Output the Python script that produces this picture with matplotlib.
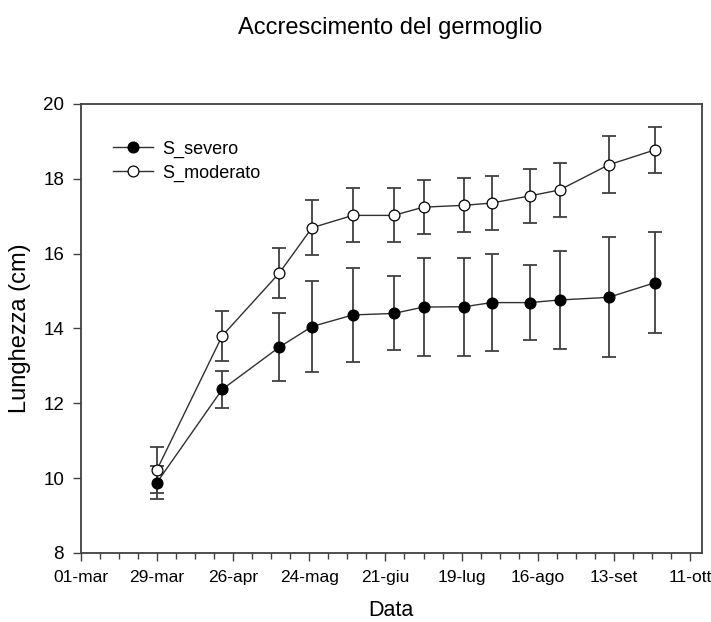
import matplotlib
matplotlib.use("Agg")
import matplotlib.pyplot as plt
import pandas as pd

plt.rcParams["font.family"] = ["Liberation Sans", "DejaVu Sans"]

# ── Data ──────────────────────────────────────────────────────
DATES = ["2013-03-29", "2013-04-22", "2013-05-13", "2013-05-25",
         "2013-06-09", "2013-06-24", "2013-07-05", "2013-07-20",
         "2013-07-30", "2013-08-13", "2013-08-24", "2013-09-11",
         "2013-09-28"]

SEVERO     = [9.88, 12.37, 13.50, 14.05, 14.36, 14.40, 14.57, 14.58,
              14.69, 14.69, 14.76, 14.83, 15.22]
SEVERO_ERR = [0.45, 0.50, 0.91, 1.22, 1.26, 0.99, 1.30, 1.31,
              1.30, 1.00, 1.30, 1.60, 1.35]

MODERATO     = [10.22, 13.80, 15.48, 16.69, 17.02, 17.02, 17.24, 17.29,
                17.35, 17.54, 17.70, 18.37, 18.77]
MODERATO_ERR = [0.62, 0.66, 0.68, 0.73, 0.72, 0.72, 0.72, 0.72,
                0.73, 0.73, 0.73, 0.76, 0.62]

TICK_DATES  = ["2013-03-01", "2013-03-29", "2013-04-26", "2013-05-24",
               "2013-06-21", "2013-07-19", "2013-08-16", "2013-09-13",
               "2013-10-11"]
TICK_LABELS = ["01-mar", "29-mar", "26-apr", "24-mag", "21-giu",
               "19-lug", "16-ago", "13-set", "11-ott"]

dates = pd.to_datetime(DATES)
ticks = pd.to_datetime(TICK_DATES)

fig = plt.figure(figsize=(7.11, 6.22), dpi=100)
ax = fig.add_axes([0.1135, 0.111, 0.8735, 0.722])

LINE = "#303030"

for y, err, face, label in [(SEVERO, SEVERO_ERR, "black", "S_severo"),
                            (MODERATO, MODERATO_ERR, "white", "S_moderato")]:
    ax.errorbar(dates, y, yerr=err, fmt="none", ecolor="#404040",
                elinewidth=1.3, capsize=5, capthick=1.3, zorder=2)
    ax.plot(dates, y, color=LINE, linewidth=1.0, marker="o",
            markersize=7.8, markerfacecolor=face, markeredgecolor="black",
            markeredgewidth=0.9, label=label, zorder=3)

# ── Axes ──────────────────────────────────────────────────────
ax.set_xlim(pd.Timestamp("2013-03-01"), pd.Timestamp("2013-10-15 06:00"))
ax.set_ylim(8, 20)
ax.set_xticks(ticks)
ax.set_xticklabels(TICK_LABELS)
minor = pd.date_range("2013-03-01", "2013-10-11", freq="7D")
ax.set_xticks(minor, minor=True)
ax.set_yticks(range(8, 21, 2))

ax.tick_params(axis="both", which="major", direction="out", length=6,
               width=1.0, color="#404040", pad=6)
ax.tick_params(axis="x", which="major", labelsize=12.5)
ax.tick_params(axis="y", which="major", labelsize=13.5)
ax.tick_params(axis="x", which="minor", direction="out", length=4,
               width=1.0, color="#404040")
for spine in ax.spines.values():
    spine.set_color("#404040")
    spine.set_linewidth(1.3)

ax.set_xlabel("Data", fontsize=15.5, labelpad=11)
ax.set_ylabel("Lunghezza (cm)", fontsize=17, labelpad=9)
fig.text(0.548, 0.955, "Accrescimento del germoglio", fontsize=17,
         ha="center", va="center")

ax.legend(loc="upper left", bbox_to_anchor=(0.052, 0.918), frameon=False,
          fontsize=13, handlelength=2.2, handletextpad=0.55,
          labelspacing=0.38, borderpad=0, borderaxespad=0)

fig.savefig("out.png", dpi=100)
plt.close(fig)
